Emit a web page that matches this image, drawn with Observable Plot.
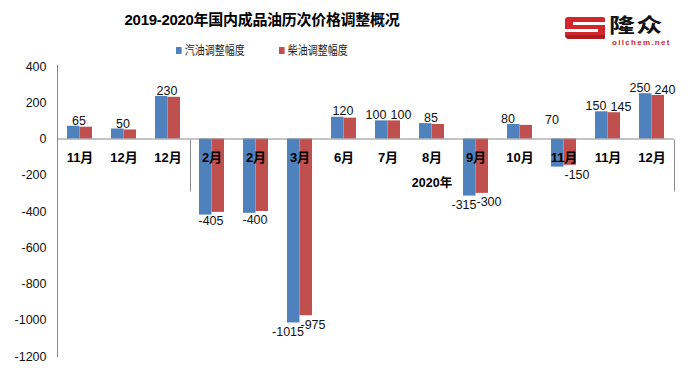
<!DOCTYPE html>
<html>
<head>
<meta charset="utf-8">
<script src="https://cdn.jsdelivr.net/npm/d3@7"></script>
<script src="https://cdn.jsdelivr.net/npm/@observablehq/plot@0.6"></script>
<style>
  html, body { margin: 0; padding: 0; background: #fff; }
  #wrap { position: relative; width: 695px; height: 368px; overflow: hidden; font-family: "Liberation Sans", Arial, "Noto Sans CJK SC", sans-serif; }
  #title { position: absolute; left: 0; top: 10px; width: 524px; text-align: center; font-size: 15px; font-weight: bold; color: #000; line-height: 19px; white-space: nowrap; letter-spacing: -0.3px; }
  .leg { position: absolute; top: 41px; font-size: 12.5px; color: #222; line-height: 17px; white-space: nowrap; font-family: "Noto Sans CJK SC", sans-serif; transform: scaleX(0.8); transform-origin: left center; }
  .sw { display: inline-block; width: 7px; height: 7px; margin-right: 4px; vertical-align: 1px; }
  #logo-e { position: absolute; left: 565px; top: 17px; width: 40px; height: 22px; background: #d1262c; border-radius: 3px 2px 2px 5px; }
  #logo-e .s1 { position: absolute; left: 8px; top: 5px; width: 32px; height: 3px; background: #fff; }
  #logo-e .s2 { position: absolute; left: 0px; top: 12px; width: 33px; height: 3px; background: #fff; }
  #logo-e .s3 { position: absolute; left: 0px; top: 18px; width: 40px; height: 4px; background: #a81d22; border-radius: 0 0 2px 5px; }
  #logo-t { position: absolute; left: 609px; top: 15px; font-size: 20px; font-weight: bold; color: #111; letter-spacing: 1px; line-height: 20px; font-family: "Noto Sans CJK SC", sans-serif; transform: scaleX(1.3); transform-origin: left top; }
  #logo-n { position: absolute; left: 612px; top: 39px; font-size: 8px; font-weight: bold; color: #d1262c; letter-spacing: 1.3px; line-height: 8px; font-family: "Liberation Sans", Arial, sans-serif; }
</style>
</head>
<body>
<div id="wrap">
  <div id="chart"></div>
  <div id="title">2019-2020年国内成品油历次价格调整概况</div>
  <div class="leg" style="left:176px"><span class="sw" style="background:#4F81BD"></span>汽油调整幅度</div>
  <div class="leg" style="left:279px"><span class="sw" style="background:#C0504D"></span>柴油调整幅度</div>
  <div id="logo-e"><div class="s1"></div><div class="s2"></div><div class="s3"></div></div>
  <div id="logo-t">隆众</div>
  <div id="logo-n">oilchem.net</div>
</div>
<script>
// ---- data ----
const categories = ["11月","12月","12月","2月","2月","3月","6月","7月","8月","9月","10月","11月","11月","12月"];
const gasoline = [70, 55, 235, -420, -410, -1015, 120, 100, 85, -315, 80, -155, 150, 250];
const diesel   = [65, 50, 230, -405, -400, -975, 115, 100, 80, -300, 75, -145, 145, 240];
const groupLabels  = ["65","50","230","-405","-400",null,"120",null,"85",null,null,null,null,null];
const gasLabels    = [null,null,null,null,null,"-1015",null,"100",null,"-315","80","70","150","250"];
const dieselLabels = [null,null,null,null,null,"-975",null,"100",null,"-300",null,"-150","145","240"];
const yearGroups = [{label: "2020年", from: 3, to: 13}];
const yTicks = [400, 200, 0, -200, -400, -600, -800, -1000, -1200];
const seriesNames = ["汽油调整幅度", "柴油调整幅度"];
const colors = ["#4F81BD", "#C0504D"];

// ---- layout ----
const W = 695, H = 368;
const mL = 58, mR = 21, mT = 66, mB = 12;
const n = categories.length;
const pad = 0.43;
const step = (W - mL - mR) / n;
const bw = step * (1 - pad);

const idx = categories.map((_, i) => String(i));
const rows = idx.map((k, i) => ({k, cat: categories[i], gas: gasoline[i], die: diesel[i],
  gl: groupLabels[i], gsl: gasLabels[i], dsl: dieselLabels[i]}));

const posNeg = (t) => Number(t) >= 0;

function labelMark(field, dx) {
  const data = rows.filter(r => r[field] != null);
  return [
    Plot.text(data.filter(r => posNeg(r[field])), {x: "k", y: r => Number(r[field]), text: field, dx, dy: -2, lineAnchor: "bottom", textAnchor: "middle", fontSize: 12.5, fill: "#111"}),
    Plot.text(data.filter(r => !posNeg(r[field])), {x: "k", y: r => Number(r[field]), text: field, dx, dy: 4, lineAnchor: "top", textAnchor: "middle", fontSize: 12.5, fill: "#111"})
  ];
}

function axisDecor(index, scales, values, dimensions) {
  const g = d3.create("svg:g").attr("stroke", "#8a8a8a").attr("stroke-width", 1).attr("fill", "none");
  const y = scales.y;
  const x0 = dimensions.marginLeft - 0.5;
  g.append("line").attr("x1", x0).attr("x2", x0).attr("y1", y(yTicks[0]) - 1).attr("y2", y(yTicks[yTicks.length - 1]) + 1);
  const y0 = Math.round(y(0)) + 0.5;
  for (const grp of yearGroups) {
    const xa = dimensions.marginLeft + grp.from * step;
    const xb = dimensions.marginLeft + (grp.to + 1) * step;
    for (const xx of [xa, xb]) {
      g.append("line").attr("x1", Math.round(xx) + 0.5).attr("x2", Math.round(xx) + 0.5).attr("y1", y0).attr("y2", y0 + 52);
    }
  }
  return g.node();
}

const chart = Plot.plot({
  width: W, height: H,
  marginLeft: mL, marginRight: mR, marginTop: mT, marginBottom: mB,
  style: {fontFamily: "'Liberation Sans', Arial, 'Noto Sans CJK SC', sans-serif", fontSize: "12px", background: "transparent", overflow: "visible"},
  x: {type: "band", domain: idx, paddingInner: pad, paddingOuter: pad / 2, align: 0.5, axis: null},
  y: {domain: [yTicks[yTicks.length - 1], yTicks[0]], axis: null},
  marks: [
    Plot.axisY({ticks: yTicks, tickSize: 0, tickPadding: 12, fontSize: 12.5, fill: "#111", tickFormat: d => String(d)}),
    Plot.barY(rows, {x: "k", y: "gas", fill: colors[0], insetRight: bw / 2}),
    Plot.barY(rows, {x: "k", y: "die", fill: colors[1], insetLeft: bw / 2}),
    Plot.ruleY([0], {stroke: "#8a8a8a", strokeWidth: 1}),
    axisDecor,
    Plot.text(rows, {x: "k", y: () => 0, text: "cat", dy: 19, fontSize: 13, fontWeight: "bold", fill: "#000", textAnchor: "middle"}),
    Plot.text(yearGroups, {x: g => String(Math.round((g.from + g.to) / 2)), y: () => 0, text: "label", dy: 44, fontSize: 12.5, fontWeight: "bold", fill: "#000", textAnchor: "middle"}),
    ...labelMark("gl", -1),
    ...labelMark("gsl", -12),
    ...labelMark("dsl", 13)
  ]
});
document.getElementById("chart").appendChild(chart);
</script>
</body>
</html>
